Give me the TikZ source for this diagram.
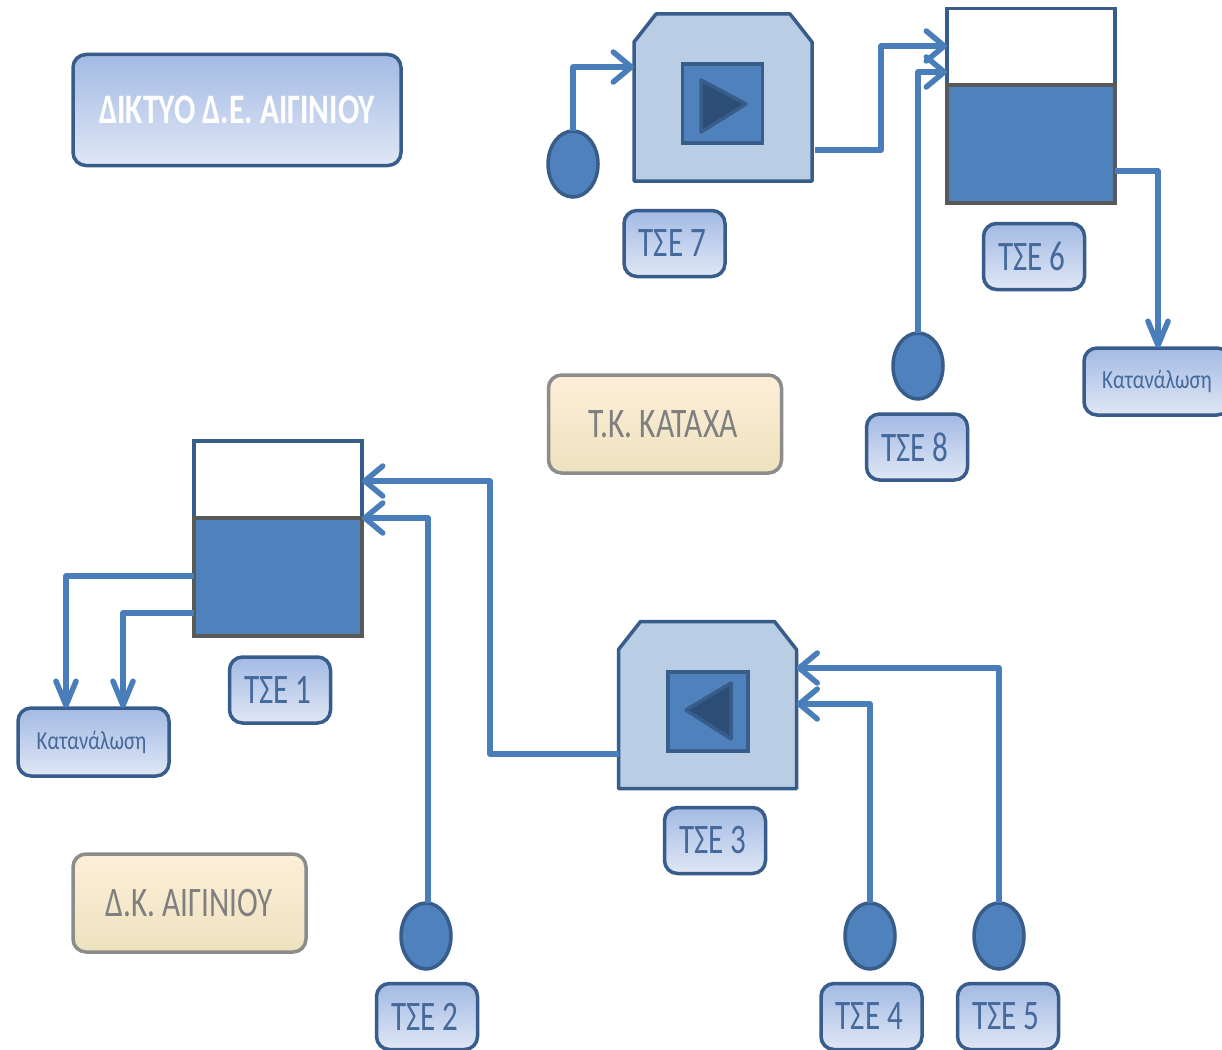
\documentclass[tikz,border=0pt]{standalone}
\usepackage{fontspec}
\setmainfont{Carlito}
\usetikzlibrary{arrows.meta,shapes.geometric}
\definecolor{edgeblue}{HTML}{385D8A}
\definecolor{flowblue}{HTML}{4A7EBB}
\definecolor{fillblue}{HTML}{4F81BD}
\definecolor{pumpblue}{HTML}{B9CDE5}
\definecolor{darktri}{HTML}{2C4D75}
\definecolor{boxtop}{HTML}{A3BAE4}
\definecolor{boxbot}{HTML}{E0E7F5}
\definecolor{tantop}{HTML}{FDEFD8}
\definecolor{tanbot}{HTML}{EDE2BF}
\definecolor{tanedge}{HTML}{8C8C8C}
\definecolor{tantext}{HTML}{7F7F7F}
\definecolor{labeltext}{HTML}{44699B}
\newcommand{\sq}[3]{{\fontsize{#1}{#1}\selectfont\scalebox{#2}[1]{#3}}}
\newcommand{\tsetext}[1]{\hspace*{-4pt}\raisebox{-1pt}{\sq{42}{0.74}{#1}}}
\newcommand{\pumpoutline}[1]{%
  \draw[pumpline] ([xshift=22pt]#1.north west) -- ([xshift=-22pt]#1.north east)
    -- ([yshift=-28pt]#1.north east) -- (#1.south east) -- (#1.south west)
    -- ([yshift=-28pt]#1.north west) -- cycle;}
\tikzset{
  x=1pt,y=-1pt,
  labelbox/.style={draw=edgeblue,line width=3.5pt,rounded corners=13pt,top color=boxtop,bottom color=boxbot,
    inner sep=0pt,outer sep=0pt,text=labeltext,align=center},
  tanbox/.style={draw=tanedge,line width=3.5pt,rounded corners=13pt,top color=tantop,bottom color=tanbot,
    inner sep=0pt,outer sep=0pt,text=tantext,align=center,minimum width=233pt,minimum height=98pt},
  tse/.style={labelbox,minimum width=101pt,minimum height=66pt},
  tanktop/.style={draw=edgeblue,line width=3.5pt,fill=white,inner sep=0pt,outer sep=0pt,minimum width=168pt,minimum height=77pt},
  tankbody/.style={draw=black!65,line width=3.5pt,fill=fillblue,inner sep=0pt,outer sep=0pt,minimum width=168pt,minimum height=118pt},
  pump/.style={inner sep=0pt,outer sep=0pt,minimum width=178pt,minimum height=167pt},
  pumpline/.style={draw=edgeblue,line width=3.5pt,fill=pumpblue,line join=round},
  pumpcore/.style={draw=edgeblue,line width=3.5pt,fill=fillblue,inner sep=0pt,outer sep=0pt,minimum width=80pt,minimum height=79pt},
  pumptri/.style={draw=edgeblue,line width=3.5pt,fill=darktri,line join=round},
  meter/.style={ellipse,draw=edgeblue,line width=3.5pt,fill=fillblue,inner sep=0pt,outer sep=0pt,minimum width=50pt,minimum height=66pt},
  flow/.style={draw=flowblue,line width=5.5pt,line join=round},
  flowin/.style={flow,-{Straight Barb[length=18pt,width=30pt,line width=5.5pt,round]}},
  flowdown/.style={flow,-{Straight Barb[length=24pt,width=20pt,line width=5.5pt,round]}}
}
\begin{document}
\begin{tikzpicture}
\fill[white] (0,0) rectangle (1222,1049);
\clip (0,0) rectangle (1222,1049);

\node[labelbox,minimum width=328pt,minimum height=111pt,text=white] (title) at (237,110)
  {\sq{42}{0.75}{\bfseries ΔΙΚΤΥΟ Δ.Ε. ΑΙΓΙΝΙΟΥ}};
\node[tanbox] (tk) at (665,424) {\hspace*{-4pt}\sq{42}{0.75}{Τ.Κ. ΚΑΤΑΧΑ}};
\node[tanbox] (dk) at (189.5,903) {\sq{42}{0.745}{Δ.Κ. ΑΙΓΙΝΙΟΥ}};

% upper group
\node[pump] (p7) at (723,97.5) {};
\pumpoutline{p7}
\node[pumpcore] (p7c) at (722.5,103.5) {};
\fill[pumptri] (701,80) -- (746,104) -- (701,132) -- cycle;
\node[tanktop] (t6t) at (1031,47) {};
\node[tankbody] (t6b) at (1031,144) {};
\node[meter] (c7) at (573,164) {};
\node[meter] (c8) at (918,366) {};
\node[tse] (l7) at (674.5,243.5) {\tsetext{ΤΣΕ 7}};
\node[tse] (l6) at (1034,256.5) {\tsetext{ΤΣΕ 6}};
\node[tse] (l8) at (917,447) {\tsetext{ΤΣΕ 8}};
\node[labelbox,minimum width=146pt,minimum height=67pt] (kr) at (1157,381.5) {\raisebox{-1pt}{\sq{26}{0.80}{Κατανάλωση}}};

% lower group
\node[tanktop] (t1t) at (278,479.5) {};
\node[tankbody] (t1b) at (278,577) {};
\node[pump] (p3) at (707.5,705) {};
\pumpoutline{p3}
\node[pumpcore] (p3c) at (708,711.5) {};
\fill[pumptri] (731,683) -- (686,710) -- (731,739) -- cycle;
\node[meter] (c2) at (426,936) {};
\node[meter] (c4) at (870,936) {};
\node[meter] (c5) at (999,936) {};
\node[tse] (l1) at (280,690) {\tsetext{ΤΣΕ 1}};
\node[tse] (l3) at (715,840.5) {\tsetext{ΤΣΕ 3}};
\node[tse] (l2) at (427,1016.5) {\tsetext{ΤΣΕ 2}};
\node[tse] (l4) at (871.5,1016.5) {\tsetext{ΤΣΕ 4}};
\node[tse] (l5) at (1008,1016.5) {\tsetext{ΤΣΕ 5}};
\node[labelbox,minimum width=151pt,minimum height=68pt] (kl) at (93.5,742) {\hspace*{-4pt}\raisebox{-1pt}{\sq{26}{0.80}{Κατανάλωση}}};

% connectors
\draw[flowin] (c7.north) |- (p7.west |- 0,67);
\draw[flowin] ([xshift=3pt]p7.east |- 0,150) -| (881,46) -- (t6t.west |- 0,46);
\draw[flowin] (c8.north) |- (t6t.west |- 0,72);
\draw[flowdown] (t6b.east |- 0,171) -| (kr.north -| 1158,0);
\draw[flowdown] (t1b.west |- 0,576) -| (kl.north -| 66,0);
\draw[flowdown] (t1b.west |- 0,613) -| (kl.north -| 123,0);
\draw[flowin] ([xshift=2pt]c2.north) |- (t1t.east |- 0,518);
\draw[flowin] (p3.west |- 0,754) -| (490,481) -- (t1t.east |- 0,481);
\draw[flowin] (c4.north) |- (p3.east |- 0,704);
\draw[flowin] (c5.north) |- (p3.east |- 0,668);
\end{tikzpicture}
\end{document}
